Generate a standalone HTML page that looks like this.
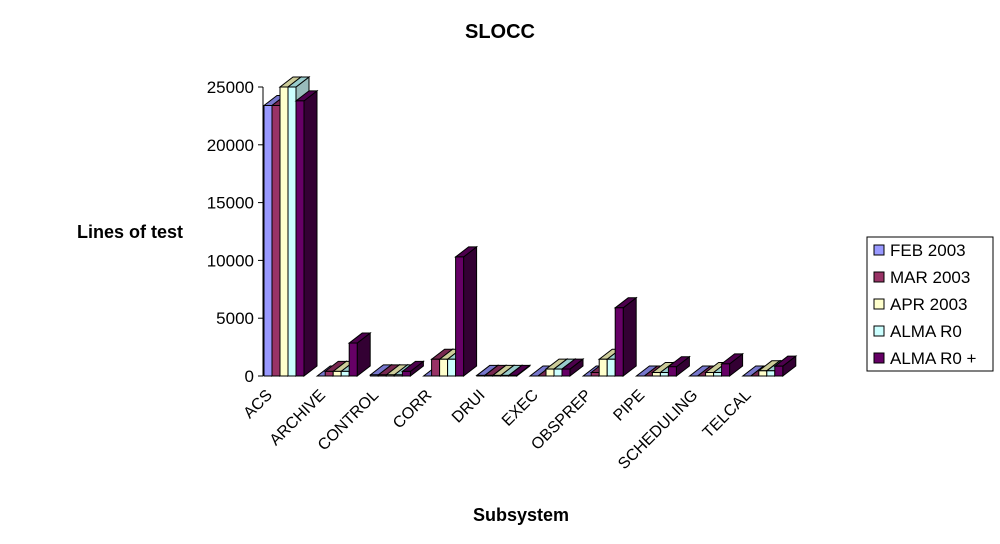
<!DOCTYPE html>
<html><head><meta charset="utf-8"><style>
body{margin:0;background:#fff;}
svg{display:block;font-family:"Liberation Sans",Arial,sans-serif;}
</style></head><body>
<svg id="chart" width="1000" height="544" viewBox="0 0 1000 544">
<text x="500" y="38" text-anchor="middle" font-size="20" font-weight="bold">SLOCC</text>
<text x="130" y="238" text-anchor="middle" font-size="18" font-weight="bold">Lines of test</text>
<text x="521" y="521" text-anchor="middle" font-size="18" font-weight="bold">Subsystem</text>
<g id="axes"></g><g id="bars"></g><g id="legend"></g>
</svg>
<script>
const categories=["ACS","ARCHIVE","CONTROL","CORR","DRUI","EXEC","OBSPREP","PIPE","SCHEDULING","TELCAL"];
const seriesNames=["FEB 2003","MAR 2003","APR 2003","ALMA R0","ALMA R0 +"];
const feb=[23400,0,100,0,50,0,0,0,0,0];
const mar=[23400,400,100,1450,50,0,300,0,0,0];
const apr=[25000,400,100,1450,50,600,1450,300,300,450];
const r0=[25000,400,100,1450,50,600,1450,300,300,450];
const r0p=[23800,2850,400,10300,50,600,5900,800,1050,850];
const yTicks=[0,5000,10000,15000,20000,25000];
const series=[feb,mar,apr,r0,r0p];
const front=["#9999ff","#993366","#ffffcc","#ccffff","#660066"];
const side=["#6666bb","#661f44","#bbbb99","#99bbbb","#330033"];
const top_=["#7777cc","#772850","#cccc99","#99cccc","#4d004d"];
const NS="http://www.w3.org/2000/svg";
const x0=263,y0=376,k=289/25000,gw=53.2,bw=8,dx=13,dy=-10;
function Y(v){return y0-v*k;}
function GX(i){return x0+1+i*gw;}
function mk(t,a,p){const e=document.createElementNS(NS,t);for(const q in a)e.setAttribute(q,a[q]);p.appendChild(e);return e;}
const ax=document.getElementById('axes');
const yl=mk('line',{x1:x0,y1:y0,x2:x0,y2:Y(25000),stroke:'#000'},ax);


yTicks.forEach(t=>{
 mk('line',{x1:x0-5,y1:Y(t),x2:x0,y2:Y(t),stroke:'#000'},ax);
 const tx=mk('text',{x:x0-9,y:Y(t)+6,'text-anchor':'end','font-size':17},ax);
 tx.textContent=t;
 
 
});
const bg=document.getElementById('bars');
categories.forEach((c,i)=>{
 for(let s=0;s<5;s++){
  const v=series[s][i];const x=GX(i)+s*bw,y=Y(v);
  const g=mk('g',{},bg);
  
  
  mk('polygon',{points:`${x+bw},${y} ${x+bw+dx},${y+dy} ${x+bw+dx},${y0+dy} ${x+bw},${y0}`,fill:side[s],stroke:'#000','stroke-width':1},g);
  mk('polygon',{points:`${x},${y} ${x+dx},${y+dy} ${x+bw+dx},${y+dy} ${x+bw},${y}`,fill:top_[s],stroke:'#000','stroke-width':1},g);
  mk('rect',{x:x,y:y,width:bw,height:y0-y,fill:front[s],stroke:'#000','stroke-width':1},g);
 }
 const lx=GX(i)+9,ly=396;
 const t=mk('text',{x:lx,y:ly,'text-anchor':'end','font-size':16,transform:`rotate(-45 ${lx} ${ly})`},ax);
 t.textContent=c;
 
 
});
const lg=document.getElementById('legend');
const box=mk('rect',{x:867,y:237,width:126,height:134,fill:'#fff',stroke:'#000'},lg);


seriesNames.forEach((n,s)=>{
 const yy=245+s*27;
 mk('rect',{x:874,y:yy,width:10,height:10,fill:front[s],stroke:'#000'},lg);
 const t=mk('text',{x:890,y:yy+11,'font-size':17},lg);
 t.textContent=n;
 
 
});
</script>
</body></html>
